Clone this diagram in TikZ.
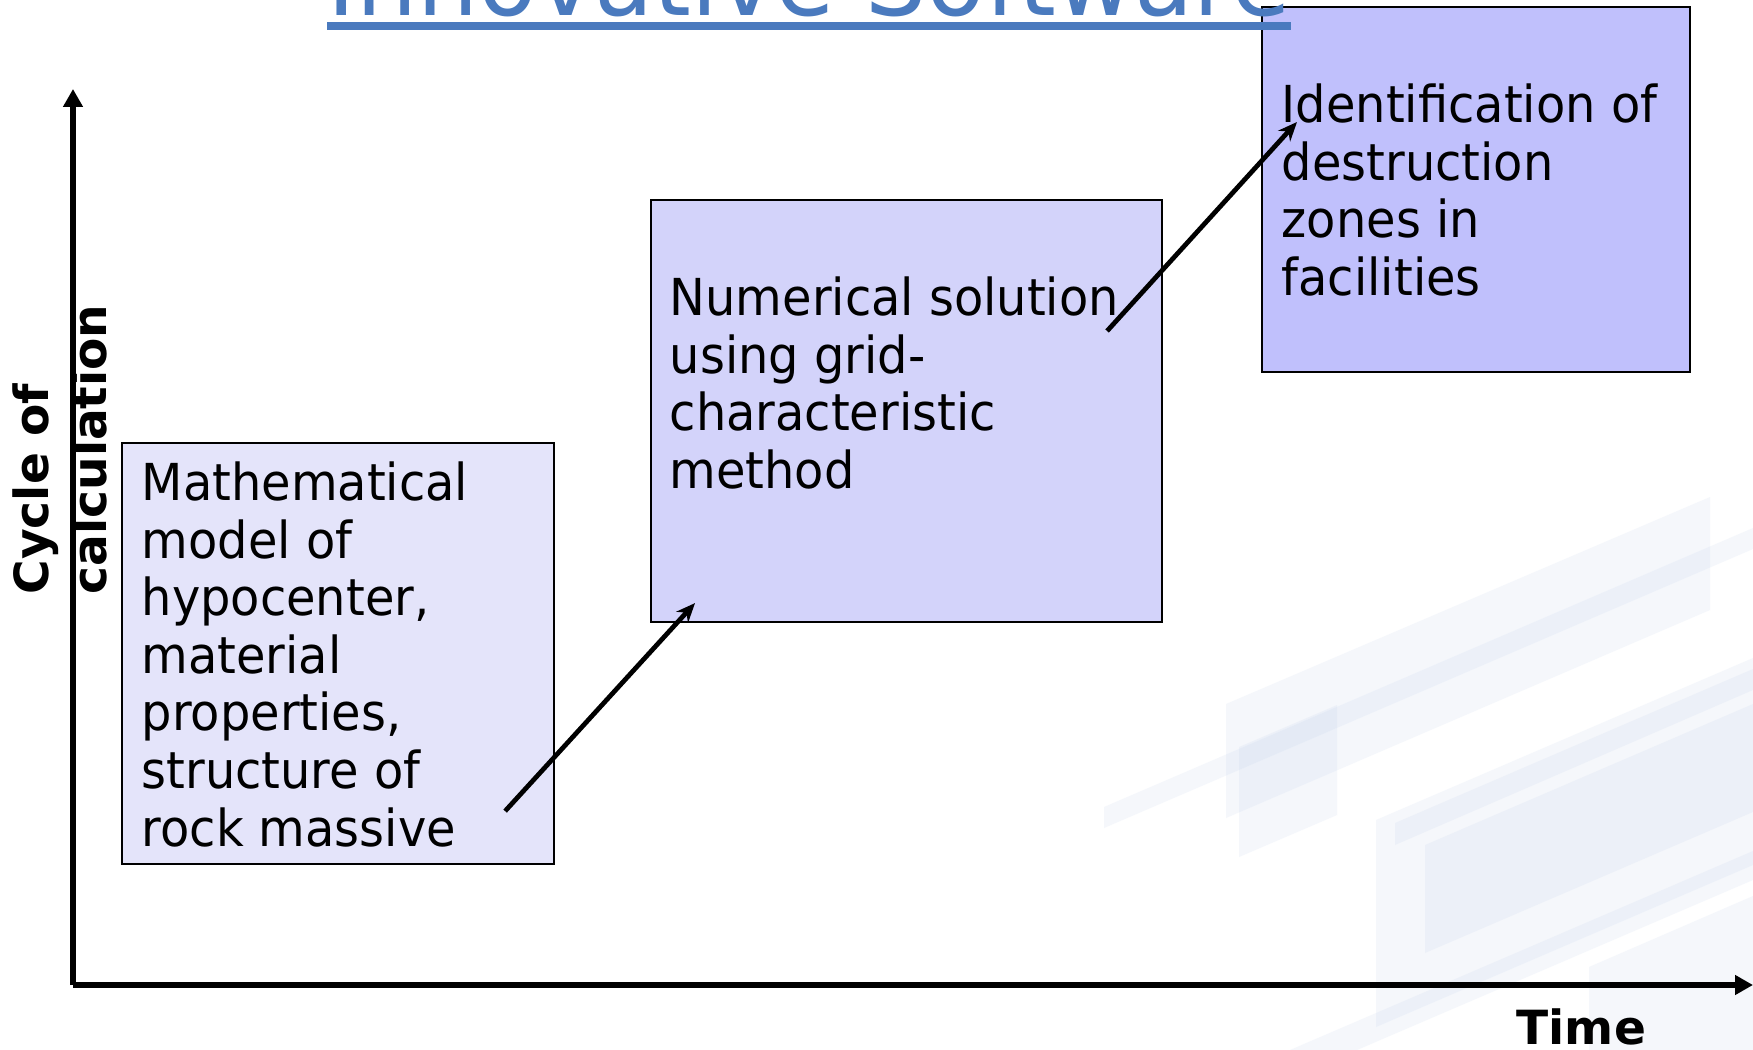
\documentclass[tikz,border=0pt]{standalone}
\usepackage{fontspec}
\setmainfont{DejaVu Sans}
\newfontfamily\stagefont{DejaVu Sans}[FakeStretch=0.94]
\usepackage{xcolor}
\usepackage{tikz}
\usetikzlibrary{arrows.meta,calc}
\definecolor{titleblue}{RGB}{74,122,190}
\definecolor{stageA}{RGB}{228,228,250}
\definecolor{stageB}{RGB}{211,211,250}
\definecolor{stageC}{RGB}{192,192,252}
\definecolor{deco}{RGB}{185,202,232}

\begin{document}
\begin{tikzpicture}[x=0.1mm, y=-0.1mm,
  stage/.style={draw=black, line width=0.6pt, rectangle,
    anchor=north west, inner sep=0pt},
  txt/.style={anchor=north west, inner sep=0pt, align=left,
    font=\stagefont\fontsize{14.5pt}{16.4pt}\selectfont},
  axislbl/.style={inner sep=0pt, font=\bfseries\fontsize{13.4pt}{16.5pt}\selectfont},
  axis/.style={line width=1.7pt, -{Triangle[length=1.8mm,width=1.9mm]}},
  arr/.style={line width=1.35pt, -{Stealth[length=1.9mm,width=1.6mm]}},
  band/.style={fill=deco, fill opacity=0.14, draw=none}]
  \useasboundingbox (0,0) rectangle (1753,1050);
  \clip (0,0) rectangle (1753,1050);
  \fill[white] (0,0) rectangle (1753,1050);
  % Background stripes
  \fill[band] (1104,807) -- (1753,528) -- (1753,549) -- (1104,828) -- cycle;
  \fill[band] (1226,704) -- (1710,497) -- (1710,610) -- (1226,818) -- cycle;
  \fill[band] (1239,747) -- (1337,705) -- (1337,815) -- (1239,857) -- cycle;
  \fill[band] (1376,820) -- (1753,658) -- (1753,865) -- (1376,1027) -- cycle;
  \fill[band] (1395,823) -- (1753,669) -- (1753,690) -- (1395,845) -- cycle;
  \fill[band] (1425,845) -- (1753,704) -- (1753,812) -- (1425,953) -- cycle;
  \fill[band] (1589,967) -- (1753,896) -- (1753,1050) -- (1589,1050) -- cycle;
  \fill[band] (1290,1050) -- (1753,851) -- (1753,880) -- (1357,1050) -- cycle;
  % Stages
  \node[stage, fill=stageA, minimum width=43.2mm, minimum height=42.1mm] (m1) at (121,442) {};
  \node[stage, fill=stageB, minimum width=51.1mm, minimum height=42.2mm] (m2) at (650,199) {};
  \node[stage, fill=stageC, minimum width=42.8mm, minimum height=36.5mm] (m3) at (1261,6) {};
  \node[txt] (t1) at ($(m1.north west)+(20,19)$)
    {Mathematical\\model of\\hypocenter,\\material\\properties,\\structure of\\rock massive};
  \node[txt] (t2) at ($(m2.north west)+(19,77)$)
    {Numerical solution\\using grid-\\characteristic\\method};
  \node[txt] (t3) at ($(m3.north west)+(20,77)$)
    {Identification of\\destruction\\zones in\\facilities};
  % Title (cut by the page)
  \node[anchor=base west, inner sep=0pt, text=titleblue,
    font=\stagefont\fontsize{29.2pt}{30pt}\selectfont] (ttl) at (327,16) {Innovative Software};
  \draw[titleblue, line width=2pt] ($(ttl.base west)+(0,10)$) -- ($(ttl.base east)+(0,10)$);
  % Arrows
  \draw[arr] ($(m1.south east)+(-50,-54)$) -- ($(m2.south west)+(45,-20)$);
  \draw[arr] ($(m2.north east)+(-56,132)$) -- ($(m3.north west)+(36,116)$);
  % Axes
  \coordinate (o) at (73,985);
  \coordinate (ytop) at (73,89);
  \coordinate (xend) at (1753,985);
  \draw[axis] (o) -- (ytop);
  \draw[axis] (o) -- (xend);
  \node[axislbl, rotate=90, align=left, anchor=south west] (ylbl) at (108,595)
    {Cycle of\\calculation};
  \node[axislbl, anchor=base west] (tlbl) at (1516,1044) {Time};
\end{tikzpicture}
\end{document}
